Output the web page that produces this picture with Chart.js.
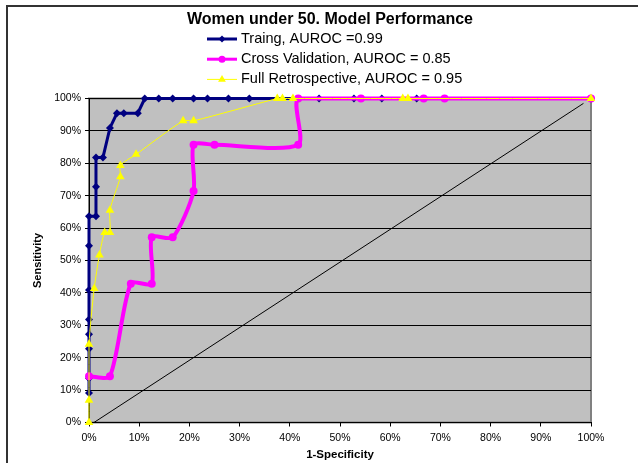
<!DOCTYPE html>
<html lang="en">
<head>
<meta charset="UTF-8" />
<title>Women under 50. Model Performance</title>
<script src="https://cdn.jsdelivr.net/npm/chart.js"></script>
<style>
  body { margin: 0; background: #fff; }
</style>
</head>
<body>
<canvas id="roc" width="638" height="463"></canvas>
<script>
  // ROC points, in percent (x = 1-specificity, y = sensitivity)
  const seriesNames = ["Traing, AUROC =0.99", "Cross Validation, AUROC = 0.85", "Full Retrospective, AUROC = 0.95"];

  const trainX = [0, 0, 0, 0, 0, 0, 0, 0, 1.39, 1.39, 1.39, 2.78, 4.17, 5.56, 6.94, 9.72,
                  11.11, 13.89, 16.67, 20.83, 23.61, 27.78, 31.94, 45.83, 52.78, 58.33, 65.28, 100];
  const trainY = [9.09, 13.64, 22.73, 27.27, 31.82, 40.91, 54.55, 63.64, 63.64, 72.73, 81.82, 81.82, 90.91, 95.45, 95.45, 95.45,
                  100, 100, 100, 100, 100, 100, 100, 100, 100, 100, 100, 100];

  const cvX = [0, 4.17, 8.33, 12.5, 12.5, 16.67, 20.83, 20.83, 25, 41.67, 41.67, 54.17, 66.67, 70.83, 100];
  const cvY = [14.29, 14.29, 42.86, 42.86, 57.14, 57.14, 71.43, 85.71, 85.71, 85.71, 100, 100, 100, 100, 100];

  const fullX = [0, 0, 0, 1.04, 2.08, 3.13, 4.17, 4.17, 6.25, 6.25, 9.38, 18.75, 20.83, 37.5, 38.54, 40.63, 62.5, 63.54, 100];
  const fullY = [0, 6.9, 24.14, 41.38, 51.72, 58.62, 58.62, 65.52, 75.86, 79.31, 82.76, 93.1, 93.1, 100, 100, 100, 100, 100, 100];

  // reference diagonal
  const chanceX = [0, 98.5];
  const chanceY = [-1, 98.5];

  const tickValues = [0, 10, 20, 30, 40, 50, 60, 70, 80, 90, 100];

  const FONT = "'Liberation Sans', Arial, sans-serif";

  function pts(xs, ys) {
    return xs.map((x, i) => ({ x: x, y: ys[i] }));
  }

  // Excel style frame + grey plot area
  const plotBackground = {
    id: "plotBackground",
    beforeDraw(chart) {
      const ctx = chart.ctx;
      const a = chart.chartArea;
      ctx.save();
      ctx.strokeStyle = "#333";
      ctx.lineWidth = 2;
      ctx.beginPath();
      ctx.moveTo(7, 470);
      ctx.lineTo(7, 6);
      ctx.lineTo(640, 6);
      ctx.stroke();
      ctx.fillStyle = "#C0C0C0";
      ctx.fillRect(a.left, a.top, a.right - a.left, a.bottom - a.top);
      ctx.strokeStyle = "#808080";
      ctx.lineWidth = 2;
      ctx.strokeRect(a.left, a.top, a.right - a.left, a.bottom - a.top);
      ctx.restore();
    },
  };

  // legend stacked in one column, line sample with marker in the middle
  const columnLegend = {
    id: "columnLegend",
    afterDraw(chart) {
      const ctx = chart.ctx;
      const x0 = 207, x1 = 237, textX = 241;
      let y = 39;
      ctx.save();
      chart.data.datasets.forEach((ds) => {
        if (!ds.label) return;
        ctx.strokeStyle = ds.borderColor;
        ctx.lineWidth = Math.min(ds.borderWidth, 3);
        ctx.beginPath();
        ctx.moveTo(x0, y);
        ctx.lineTo(x1, y);
        ctx.stroke();
        ctx.fillStyle = ds.pointBackgroundColor;
        ctx.strokeStyle = ds.pointBorderColor;
        ctx.lineWidth = 1;
        Chart.helpers.drawPoint(ctx, { pointStyle: ds.pointStyle, radius: ds.pointRadius - 0.5, rotation: 0, borderWidth: 0 }, (x0 + x1) / 2, y);
        ctx.fillStyle = "#000";
        ctx.font = "14.5px " + FONT;
        ctx.textBaseline = "middle";
        ctx.textAlign = "left";
        ctx.fillText(ds.label, textX, y);
        y += 20.2;
      });
      ctx.restore();
    },
  };

  const pctTicks = (scale) => {
    scale.ticks = tickValues.map((v) => ({ value: v }));
  };

  new Chart(document.getElementById("roc").getContext("2d"), {
    type: "scatter",
    data: {
      datasets: [
        {
          label: seriesNames[0],
          data: pts(trainX, trainY),
          showLine: true,
          borderColor: "#000080",
          borderWidth: 3,
          pointStyle: "rectRot",
          pointRadius: 4,
          pointBorderWidth: 0,
          pointBackgroundColor: "#000080",
          pointBorderColor: "#000080",
          tension: 0,
          clip: false,
          order: 2,
        },
        {
          label: seriesNames[1],
          data: pts(cvX, cvY),
          showLine: true,
          borderColor: "#FF00FF",
          borderWidth: 4,
          pointStyle: "circle",
          pointRadius: 4,
          pointBorderWidth: 0,
          pointBackgroundColor: "#FF00FF",
          pointBorderColor: "#FF00FF",
          tension: 0.25,
          clip: false,
          order: 1,
        },
        {
          label: seriesNames[2],
          data: pts(fullX, fullY),
          showLine: true,
          borderColor: "#FFFF00",
          borderWidth: 1,
          pointStyle: "triangle",
          pointRadius: 5,
          pointBorderWidth: 0,
          pointBackgroundColor: "#FFFF00",
          pointBorderColor: "#FFFF00",
          tension: 0.25,
          clip: false,
          order: 0,
        },
        {
          data: pts(chanceX, chanceY),
          showLine: true,
          borderColor: "#000",
          borderWidth: 1,
          pointRadius: 0,
          order: 3,
        },
      ],
    },
    options: {
      responsive: false,
      animation: false,
      devicePixelRatio: 1,
      layout: { padding: { left: 22, right: 0, top: 0, bottom: 0 } },
      plugins: {
        legend: { display: false },
        tooltip: { enabled: false },
        title: {
          display: true,
          text: "Women under 50. Model Performance",
          color: "#000",
          font: { family: FONT, size: 16, weight: "bold" },
          padding: { top: 10.4, bottom: 68.9 },
        },
      },
      scales: {
        x: {
          type: "linear",
          min: 0,
          max: 100,
          afterBuildTicks: pctTicks,
          afterFit: (s) => { s.height = 40.5; },
          ticks: {
            callback: (v) => v + "%",
            color: "#000",
            font: { family: FONT, size: 10.5 },
            padding: 5,
            maxRotation: 0,
          },
          grid: { drawOnChartArea: false, drawTicks: true, tickLength: 4, color: "#000" },
          border: { color: "#000", width: 1 },
          title: {
            display: true,
            text: "1-Specificity",
            color: "#000",
            font: { family: FONT, size: 11.5, weight: "bold" },
            padding: { top: 0, bottom: 1 },
          },
        },
        y: {
          type: "linear",
          min: 0,
          max: 100,
          afterBuildTicks: pctTicks,
          afterFit: (s) => { s.width = 67; },
          ticks: {
            callback: (v) => v + "%",
            color: "#000",
            font: { family: FONT, size: 10.5 },
            padding: 4,
          },
          grid: { color: "#000", lineWidth: 1, drawTicks: true, tickLength: 4, tickColor: "#000" },
          border: { color: "#000", width: 1 },
          title: {
            display: true,
            text: "Sensitivity",
            color: "#000",
            font: { family: FONT, size: 11, weight: "bold" },
            padding: { top: 9.4, bottom: 0 },
          },
        },
        // empty right margin like the Excel plot area
        y2: {
          type: "linear",
          position: "right",
          display: true,
          afterFit: (s) => { s.width = 47; },
          ticks: { display: false },
          grid: { display: false },
          border: { display: false },
        },
      },
    },
    plugins: [plotBackground, columnLegend],
  });
</script>
</body>
</html>
